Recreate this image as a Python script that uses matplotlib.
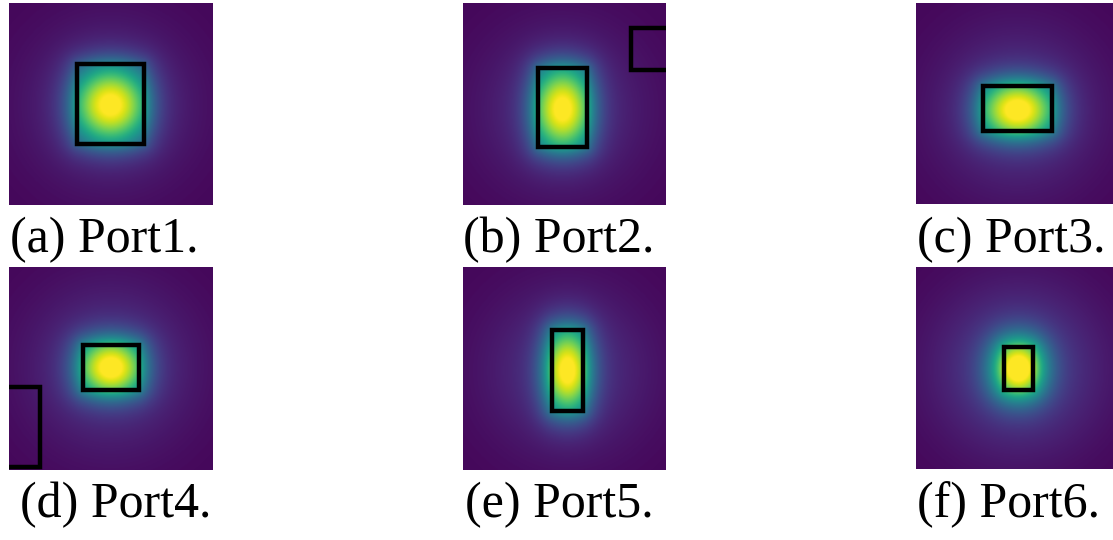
import numpy as np
import matplotlib
matplotlib.use("Agg")
import matplotlib.pyplot as plt
from matplotlib.patches import Rectangle

FW, FH = 1113, 540

# Panel labels
labels = ["(a) Port1.", "(b) Port2.", "(c) Port3.", "(d) Port4.", "(e) Port5.", "(f) Port6."]
# Panel image boxes in reference pixels: left, top, width, height
panel_left = [9, 463, 916, 9, 463, 916]
panel_top = [3, 3, 3, 267, 267, 267]
panel_w = [204, 203, 197, 204, 203, 197]
panel_h = [202, 202, 201, 203, 203, 202]
# Main port rectangle (panel-relative): x, y, w, h
port_x = [68, 75, 67, 74, 89, 88]
port_y = [61, 65, 83, 78, 63, 80]
port_w = [67, 49, 69, 56, 31, 29]
port_h = [80, 79, 45, 45, 81, 43]
# Field peak centre, spreads and outside decay length
peak_x = [101.5, 99.5, 101.5, 102, 104.5, 102.5]
peak_y = [102, 106, 107, 100.5, 103.5, 101.5]
sigma_x = [31, 25, 31, 28, 20, 21]
sigma_y = [31, 35, 25, 25, 35, 24]
decay = [22, 22, 24, 24, 26, 60]
halo_w = [0.13, 0.13, 0.15, 0.15, 0.14, 0.2]
# Neighbouring port rectangles (panel index, x, y, w, h)
extra_panel = [1, 3]
extra_x = [168, -12]
extra_y = [25, 120]
extra_w = [60, 43]
extra_h = [42, 80]
# Label positions (left x, baseline y) in reference pixels
label_x = [10, 463, 917, 20, 465, 917]
label_y = [252, 252, 252, 517, 517, 517]

fig = plt.figure(figsize=(FW / 100, FH / 100), dpi=100)

for i in range(6):
    l, t, w, h = panel_left[i], panel_top[i], panel_w[i], panel_h[i]
    ax = fig.add_axes([l / FW, 1 - (t + h) / FH, w / FW, h / FH])
    xs = np.linspace(0, w, 300)
    ys = np.linspace(0, h, 300)
    X, Y = np.meshgrid(xs, ys)
    dx = (X - peak_x[i]) / sigma_x[i]
    dy = (Y - peak_y[i]) / sigma_y[i]
    x0, x1 = port_x[i], port_x[i] + port_w[i]
    y0, y1 = port_y[i], port_y[i] + port_h[i]
    ox = np.maximum(0, np.maximum(x0 - X, X - x1))
    oy = np.maximum(0, np.maximum(y0 - Y, Y - y1))
    dout = np.sqrt(ox ** 2 + oy ** 2)
    core = np.exp(-0.5 * (dx ** 2 + dy ** 2)) * np.exp(-dout / decay[i])
    r2 = ((X - peak_x[i]) ** 2 + (Y - peak_y[i]) ** 2) / (55.0 ** 2)
    halo = np.exp(-0.5 * r2)
    Z = 0.9 * core + halo_w[i] * halo + 0.015
    ax.imshow(Z, cmap="viridis", vmin=0, vmax=1.0, extent=[0, w, h, 0],
              interpolation="bilinear", aspect="auto")
    ax.add_patch(Rectangle((port_x[i], port_y[i]), port_w[i], port_h[i],
                           fill=False, edgecolor="black", linewidth=3.2))
    for k, p in enumerate(extra_panel):
        if p == i:
            ax.add_patch(Rectangle((extra_x[k], extra_y[k]), extra_w[k], extra_h[k],
                                   fill=False, edgecolor="black", linewidth=3.2,
                                   clip_on=True))
    ax.set_xlim(0, w)
    ax.set_ylim(h, 0)
    ax.axis("off")
    fig.text(label_x[i] / FW, 1 - label_y[i] / FH, labels[i],
             family="Liberation Serif", fontsize=36, ha="left", va="baseline")

fig.savefig("out.png", dpi=100)
